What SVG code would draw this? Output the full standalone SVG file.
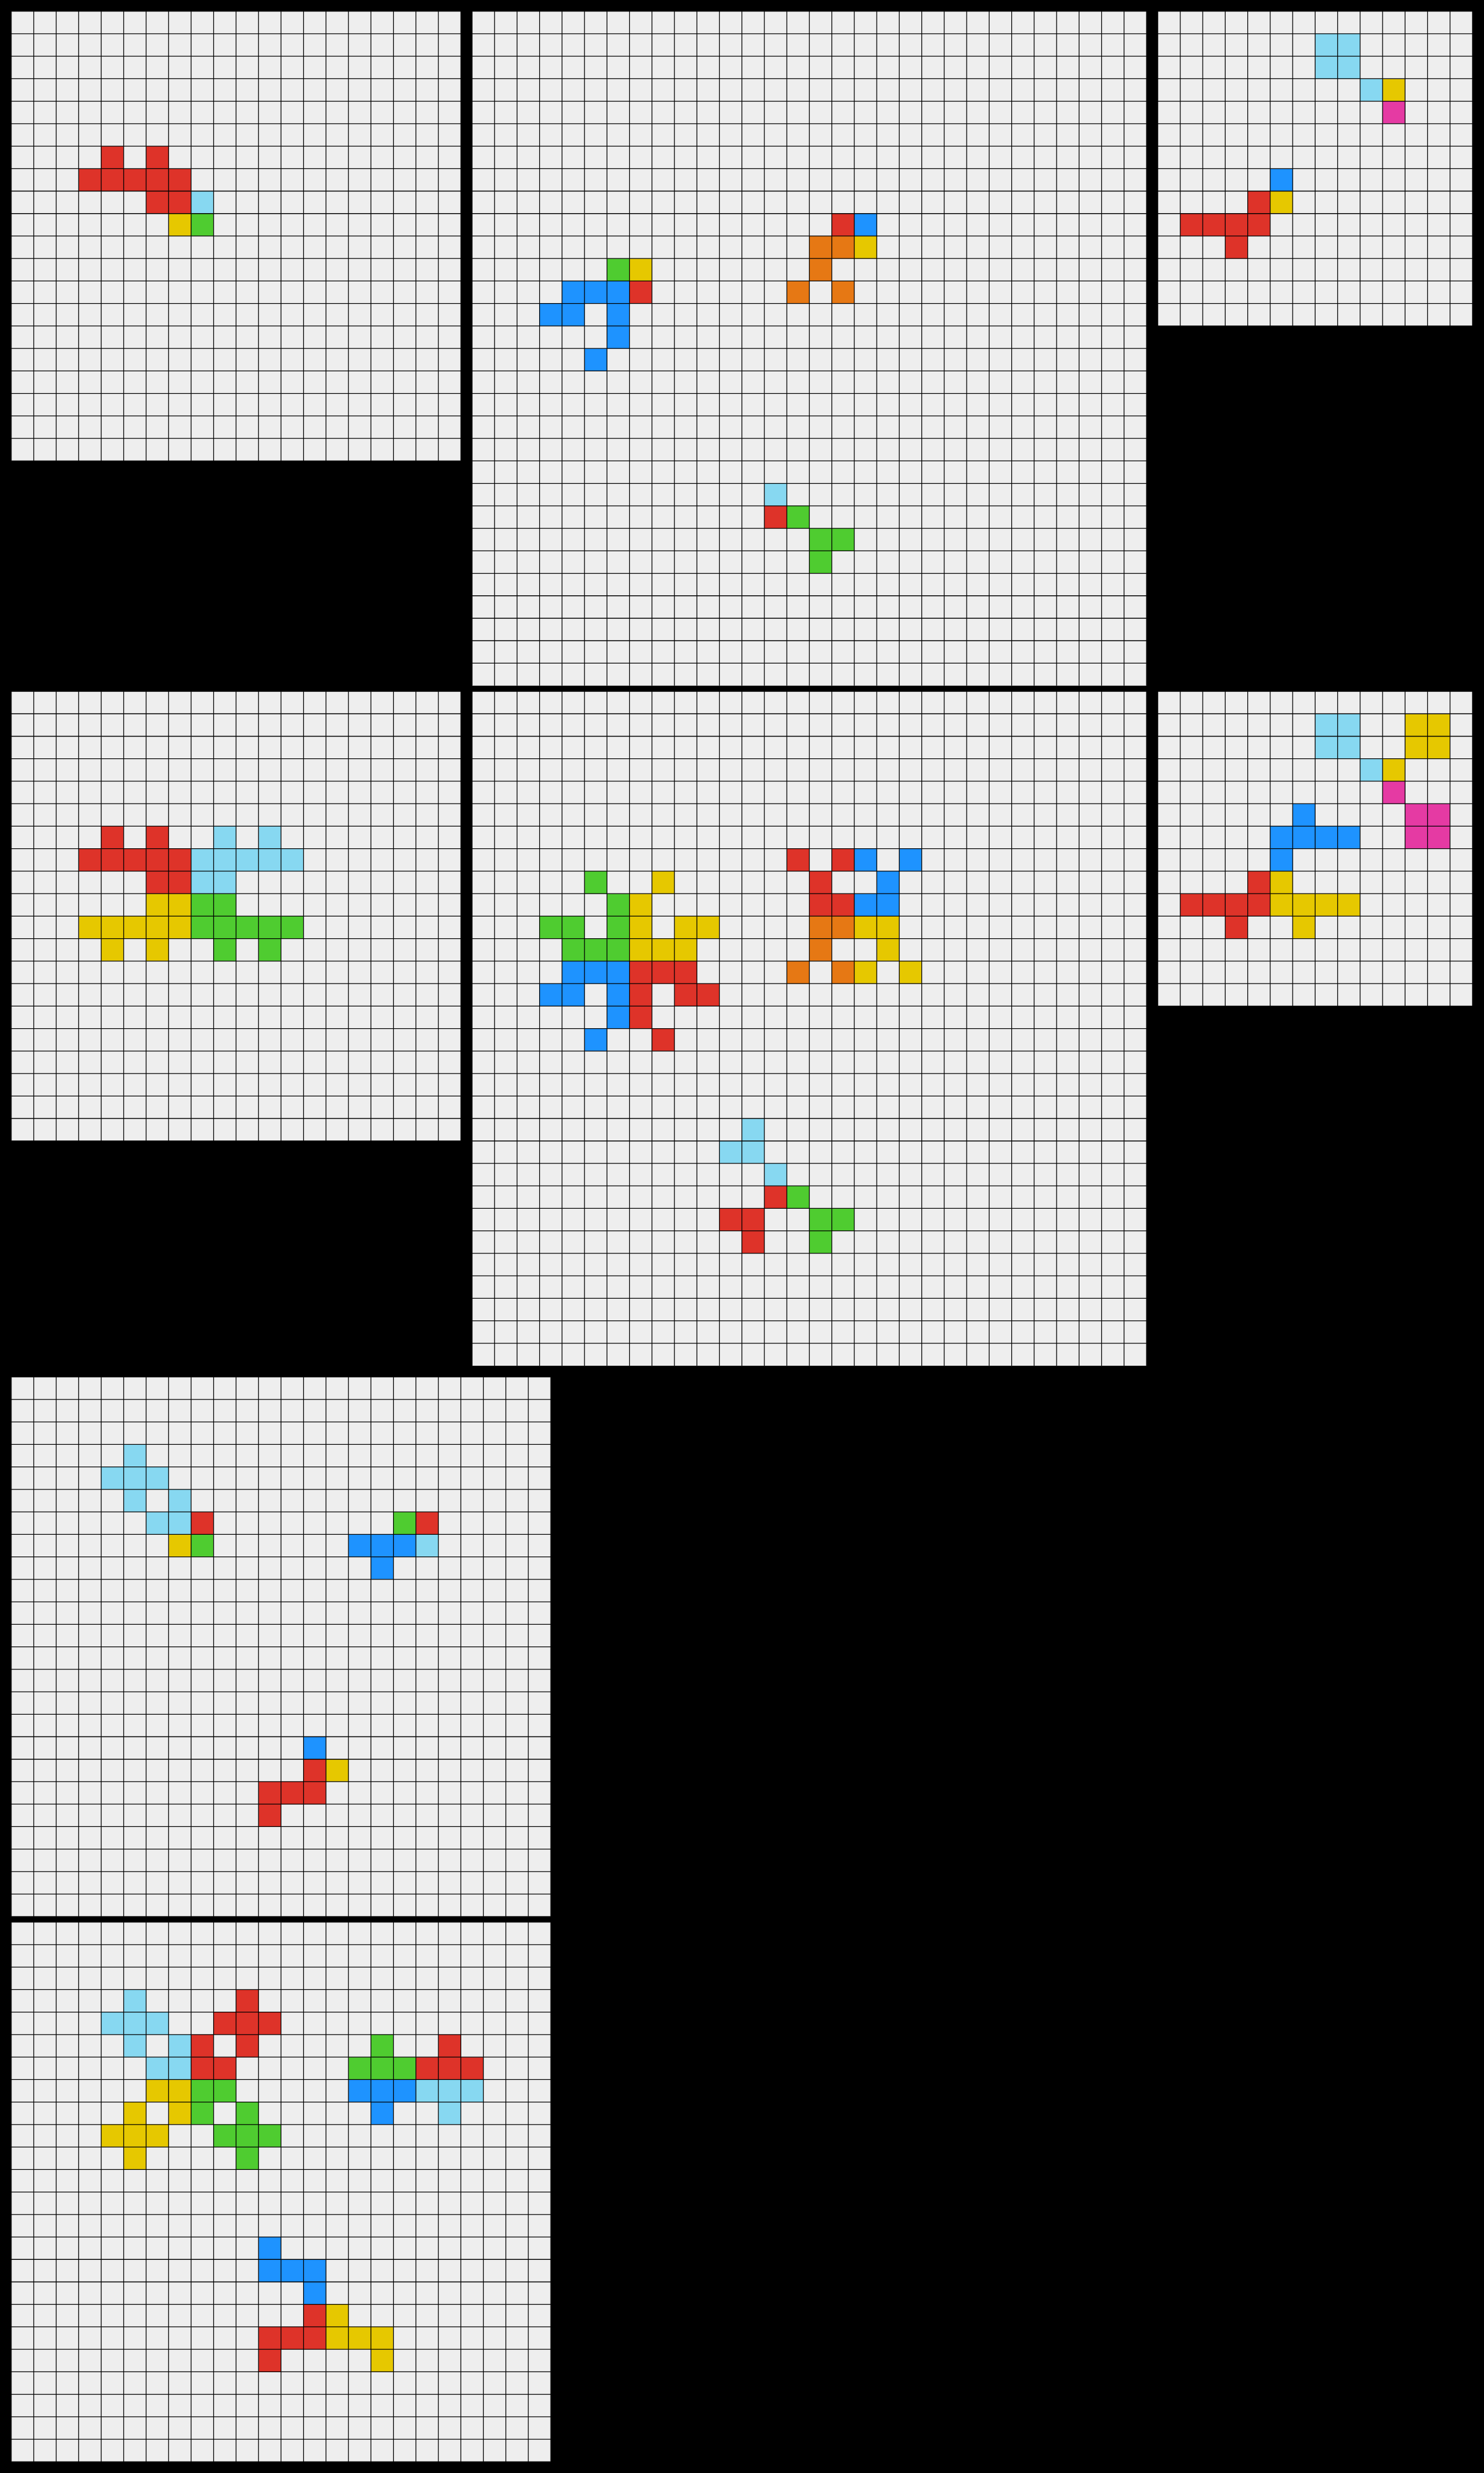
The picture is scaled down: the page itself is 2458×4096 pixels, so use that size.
<svg xmlns="http://www.w3.org/2000/svg" xmlns:xlink="http://www.w3.org/1999/xlink" width="2458" height="4096" viewBox="0 0 2458 4096">
<style>
.bg{fill:#EEEEEE}
.grid{fill:none;stroke:#000000;stroke-width:2.2}
.r{fill:#DE3329}
.b{fill:#1E93FF}
.lb{fill:#87D8F1}
.y{fill:#E6C800}
.g{fill:#4FCC30}
.o{fill:#E67814}
.m{fill:#E53AA3}
</style>
<defs>
<path id="grid20" class="grid" d="M0 0v1280m64-1280v1280m64-1280v1280m64-1280v1280m64-1280v1280m64-1280v1280m64-1280v1280m64-1280v1280m64-1280v1280m64-1280v1280m64-1280v1280m64-1280v1280m64-1280v1280m64-1280v1280m64-1280v1280m64-1280v1280m64-1280v1280m64-1280v1280m64-1280v1280m64-1280v1280m64-1280v1280M0 0h1280m-1280 64h1280m-1280 64h1280m-1280 64h1280m-1280 64h1280m-1280 64h1280m-1280 64h1280m-1280 64h1280m-1280 64h1280m-1280 64h1280m-1280 64h1280m-1280 64h1280m-1280 64h1280m-1280 64h1280m-1280 64h1280m-1280 64h1280m-1280 64h1280m-1280 64h1280m-1280 64h1280m-1280 64h1280m-1280 64h1280"/>
<path id="grid30" class="grid" d="M0 0v1920m64-1920v1920m64-1920v1920m64-1920v1920m64-1920v1920m64-1920v1920m64-1920v1920m64-1920v1920m64-1920v1920m64-1920v1920m64-1920v1920m64-1920v1920m64-1920v1920m64-1920v1920m64-1920v1920m64-1920v1920m64-1920v1920m64-1920v1920m64-1920v1920m64-1920v1920m64-1920v1920m64-1920v1920m64-1920v1920m64-1920v1920m64-1920v1920m64-1920v1920m64-1920v1920m64-1920v1920m64-1920v1920m64-1920v1920m64-1920v1920M0 0h1920m-1920 64h1920m-1920 64h1920m-1920 64h1920m-1920 64h1920m-1920 64h1920m-1920 64h1920m-1920 64h1920m-1920 64h1920m-1920 64h1920m-1920 64h1920m-1920 64h1920m-1920 64h1920m-1920 64h1920m-1920 64h1920m-1920 64h1920m-1920 64h1920m-1920 64h1920m-1920 64h1920m-1920 64h1920m-1920 64h1920m-1920 64h1920m-1920 64h1920m-1920 64h1920m-1920 64h1920m-1920 64h1920m-1920 64h1920m-1920 64h1920m-1920 64h1920m-1920 64h1920"/>
<path id="grid14" class="grid" d="M0 0v896m64-896v896m64-896v896m64-896v896m64-896v896m64-896v896m64-896v896m64-896v896m64-896v896m64-896v896m64-896v896m64-896v896m64-896v896m64-896v896m64-896v896M0 0h896m-896 64h896m-896 64h896m-896 64h896m-896 64h896m-896 64h896m-896 64h896m-896 64h896m-896 64h896m-896 64h896m-896 64h896m-896 64h896m-896 64h896m-896 64h896m-896 64h896"/>
<path id="grid24" class="grid" d="M0 0v1536m64-1536v1536m64-1536v1536m64-1536v1536m64-1536v1536m64-1536v1536m64-1536v1536m64-1536v1536m64-1536v1536m64-1536v1536m64-1536v1536m64-1536v1536m64-1536v1536m64-1536v1536m64-1536v1536m64-1536v1536m64-1536v1536m64-1536v1536m64-1536v1536m64-1536v1536m64-1536v1536m64-1536v1536m64-1536v1536m64-1536v1536m64-1536v1536M0 0h1536m-1536 64h1536m-1536 64h1536m-1536 64h1536m-1536 64h1536m-1536 64h1536m-1536 64h1536m-1536 64h1536m-1536 64h1536m-1536 64h1536m-1536 64h1536m-1536 64h1536m-1536 64h1536m-1536 64h1536m-1536 64h1536m-1536 64h1536m-1536 64h1536m-1536 64h1536m-1536 64h1536m-1536 64h1536m-1536 64h1536m-1536 64h1536m-1536 64h1536m-1536 64h1536m-1536 64h1536"/>
</defs>
<rect x="0" y="0" width="2458" height="4096" fill="#000000"/>
<g transform="scale(0.581818)">
<g id="panel1" transform="translate(32,32)">
<rect class="bg" width="1280" height="1280"/>
<path class="r" d="M256 384h64v64h-64zM384 384h64v64h-64zM192 448h320v64h-320zM384 512h128v64h-128z"/>
<path class="lb" d="M512 512h64v64h-64z"/>
<path class="y" d="M448 576h64v64h-64z"/>
<path class="g" d="M512 576h64v64h-64z"/>
<use xlink:href="#grid20" href="#grid20"/>
</g>
<g id="panel2" transform="translate(1344,32)">
<rect class="bg" width="1920" height="1920"/>
<path class="g" d="M384 704h64v64h-64zM896 1408h64v64h-64zM960 1472h128v64h-128zM960 1536h64v64h-64z"/>
<path class="y" d="M448 704h64v64h-64zM1088 640h64v64h-64z"/>
<path class="b" d="M256 768h192v64h-192zM192 832h128v64h-128zM384 832h64v64h-64zM384 896h64v64h-64zM320 960h64v64h-64zM1088 576h64v64h-64z"/>
<path class="r" d="M448 768h64v64h-64zM1024 576h64v64h-64zM832 1408h64v64h-64z"/>
<path class="o" d="M960 640h128v64h-128zM960 704h64v64h-64zM896 768h64v64h-64zM1024 768h64v64h-64z"/>
<path class="lb" d="M832 1344h64v64h-64z"/>
<use xlink:href="#grid30" href="#grid30"/>
</g>
<g id="panel3" transform="translate(3296,32)">
<rect class="bg" width="896" height="896"/>
<path class="lb" d="M448 64h128v128h-128zM576 192h64v64h-64z"/>
<path class="y" d="M640 192h64v64h-64zM320 512h64v64h-64z"/>
<path class="m" d="M640 256h64v64h-64z"/>
<path class="b" d="M320 448h64v64h-64z"/>
<path class="r" d="M256 512h64v64h-64zM64 576h256v64h-256zM192 640h64v64h-64z"/>
<use xlink:href="#grid14" href="#grid14"/>
</g>
<g id="panel4" transform="translate(32,1968)">
<rect class="bg" width="1280" height="1280"/>
<path class="r" d="M256 384h64v64h-64zM384 384h64v64h-64zM192 448h320v64h-320zM384 512h128v64h-128z"/>
<path class="lb" d="M576 384h64v64h-64zM704 384h64v64h-64zM512 448h320v64h-320zM512 512h128v64h-128z"/>
<path class="y" d="M384 576h128v64h-128zM192 640h320v64h-320zM256 704h64v64h-64zM384 704h64v64h-64z"/>
<path class="g" d="M512 576h128v64h-128zM512 640h320v64h-320zM576 704h64v64h-64zM704 704h64v64h-64z"/>
<use xlink:href="#grid20" href="#grid20"/>
</g>
<g id="panel5" transform="translate(1344,1968)">
<rect class="bg" width="1920" height="1920"/>
<path class="b" d="M256 768h192v64h-192zM192 832h128v64h-128zM384 832h64v64h-64zM384 896h64v64h-64zM320 960h64v64h-64zM1088 576h128v64h-128zM1152 512h64v64h-64zM1088 448h64v64h-64zM1216 448h64v64h-64z"/>
<path class="g" d="M256 704h192v64h-192zM192 640h128v64h-128zM384 640h64v64h-64zM384 576h64v64h-64zM320 512h64v64h-64zM896 1408h64v64h-64zM960 1472h128v64h-128zM960 1536h64v64h-64z"/>
<path class="r" d="M448 768h192v64h-192zM448 832h64v64h-64zM576 832h128v64h-128zM448 896h64v64h-64zM512 960h64v64h-64zM960 576h128v64h-128zM960 512h64v64h-64zM896 448h64v64h-64zM1024 448h64v64h-64zM832 1408h64v64h-64zM704 1472h128v64h-128zM768 1536h64v64h-64z"/>
<path class="y" d="M448 704h192v64h-192zM448 640h64v64h-64zM576 640h128v64h-128zM448 576h64v64h-64zM512 512h64v64h-64zM1088 640h128v64h-128zM1152 704h64v64h-64zM1088 768h64v64h-64zM1216 768h64v64h-64z"/>
<path class="o" d="M960 640h128v64h-128zM960 704h64v64h-64zM896 768h64v64h-64zM1024 768h64v64h-64z"/>
<path class="lb" d="M832 1344h64v64h-64zM704 1280h128v64h-128zM768 1216h64v64h-64z"/>
<use xlink:href="#grid30" href="#grid30"/>
</g>
<g id="panel6" transform="translate(3296,1968)">
<rect class="bg" width="896" height="896"/>
<path class="lb" d="M448 64h128v128h-128zM576 192h64v64h-64z"/>
<path class="y" d="M640 192h64v64h-64zM704 64h128v128h-128zM320 512h64v64h-64zM320 576h256v64h-256zM384 640h64v64h-64z"/>
<path class="m" d="M640 256h64v64h-64zM704 320h128v128h-128z"/>
<path class="b" d="M320 448h64v64h-64zM320 384h256v64h-256zM384 320h64v64h-64z"/>
<path class="r" d="M256 512h64v64h-64zM64 576h256v64h-256zM192 640h64v64h-64z"/>
<use xlink:href="#grid14" href="#grid14"/>
</g>
<g id="panel7" transform="translate(32,3920)">
<rect class="bg" width="1536" height="1536"/>
<path class="lb" d="M320 192h64v64h-64zM256 256h192v64h-192zM320 320h64v64h-64zM448 320h64v64h-64zM384 384h128v64h-128zM1152 448h64v64h-64z"/>
<path class="r" d="M512 384h64v64h-64zM1152 384h64v64h-64zM832 1088h64v64h-64zM704 1152h192v64h-192zM704 1216h64v64h-64z"/>
<path class="y" d="M448 448h64v64h-64zM896 1088h64v64h-64z"/>
<path class="g" d="M512 448h64v64h-64zM1088 384h64v64h-64z"/>
<path class="b" d="M960 448h192v64h-192zM1024 512h64v64h-64zM832 1024h64v64h-64z"/>
<use xlink:href="#grid24" href="#grid24"/>
</g>
<g id="panel8" transform="translate(32,5472)">
<rect class="bg" width="1536" height="1536"/>
<path class="lb" d="M320 192h64v64h-64zM256 256h192v64h-192zM320 320h64v64h-64zM448 320h64v64h-64zM384 384h128v64h-128zM1152 448h192v64h-192zM1216 512h64v64h-64z"/>
<path class="r" d="M640 192h64v64h-64zM576 256h192v64h-192zM512 320h64v64h-64zM640 320h64v64h-64zM512 384h128v64h-128zM1216 320h64v64h-64zM1152 384h192v64h-192zM832 1088h64v64h-64zM704 1152h192v64h-192zM704 1216h64v64h-64z"/>
<path class="y" d="M384 448h128v64h-128zM320 512h64v64h-64zM448 512h64v64h-64zM256 576h192v64h-192zM320 640h64v64h-64zM896 1088h64v64h-64zM896 1152h192v64h-192zM1024 1216h64v64h-64z"/>
<path class="g" d="M512 448h128v64h-128zM512 512h64v64h-64zM640 512h64v64h-64zM576 576h192v64h-192zM640 640h64v64h-64zM1024 320h64v64h-64zM960 384h192v64h-192z"/>
<path class="b" d="M960 448h192v64h-192zM1024 512h64v64h-64zM832 1024h64v64h-64zM704 960h192v64h-192zM704 896h64v64h-64z"/>
<use xlink:href="#grid24" href="#grid24"/>
</g>
</g>
</svg>
